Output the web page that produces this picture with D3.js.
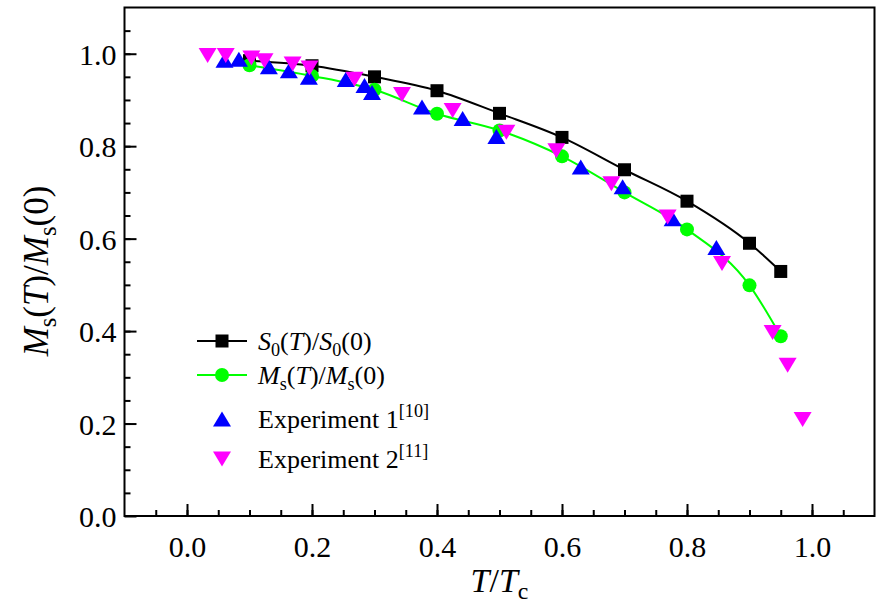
<!DOCTYPE html>
<html><head><meta charset="utf-8">
<script src="https://cdn.jsdelivr.net/npm/d3@7/dist/d3.min.js"></script>
<style>body{margin:0;background:#fff}svg{display:block}text{font-family:"Liberation Serif","DejaVu Serif",serif;fill:#000}</style>
</head><body><svg id="c" width="884" height="613"></svg>
<script>
// ---- data ----
const s0T = [0.1, 0.2, 0.3, 0.4, 0.5, 0.6, 0.7, 0.8, 0.9, 0.95];
const s0V = [0.985, 0.974, 0.950, 0.920, 0.871, 0.819, 0.749, 0.681, 0.590, 0.529];
const msT = [0.1, 0.2, 0.3, 0.4, 0.5, 0.6, 0.7, 0.8, 0.9, 0.95];
const msV = [0.975, 0.952, 0.922, 0.870, 0.834, 0.778, 0.700, 0.620, 0.499, 0.389];
const exp1T = [0.06, 0.083, 0.131, 0.163, 0.195, 0.254, 0.284, 0.296, 0.376, 0.441, 0.495, 0.630, 0.697, 0.777, 0.847];
const exp1V = [0.986, 0.988, 0.972, 0.963, 0.949, 0.944, 0.931, 0.916, 0.885, 0.860, 0.821, 0.755, 0.712, 0.643, 0.581];
const exp2T = [0.033, 0.062, 0.103, 0.124, 0.169, 0.196, 0.268, 0.344, 0.425, 0.511, 0.591, 0.679, 0.769, 0.856, 0.937, 0.961, 0.985];
const exp2V = [0.996, 0.996, 0.991, 0.985, 0.978, 0.969, 0.945, 0.912, 0.877, 0.830, 0.790, 0.719, 0.647, 0.546, 0.397, 0.326, 0.209];
const xTicks = [0.0, 0.2, 0.4, 0.6, 0.8, 1.0];
const yTicks = [0.0, 0.2, 0.4, 0.6, 0.8, 1.0];

const svg = d3.select("#c");
const L = 124.5, R = 874.5, T = 7.5, B = 516;
const x = d3.scaleLinear().domain([-0.1, 1.1]).range([L, R]);
const y = d3.scaleLinear().domain([0, 1.1]).range([B, T]);

// axes (ticks inward)
const xMinor = d3.range(-0.05, 1.1, 0.05).map(v => +v.toFixed(2));
const yMinor = d3.range(0.05, 1.1, 0.05).map(v => +v.toFixed(2));
const gx = svg.append("g").attr("transform", `translate(0,${B})`);
gx.call(d3.axisBottom(x).tickValues(xMinor).tickSize(-6).tickFormat(""));
gx.call(g => g.select(".domain").remove());
const gx2 = svg.append("g").attr("transform", `translate(0,${B})`);
gx2.call(d3.axisBottom(x).tickValues(xTicks).tickSize(-12).tickFormat(d3.format(".1f")).tickPadding(18));
gx2.select(".domain").remove();
const gy = svg.append("g").attr("transform", `translate(${L},0)`);
gy.call(d3.axisLeft(y).tickValues(yMinor).tickSize(-6).tickFormat(""));
gy.select(".domain").remove();
const gy2 = svg.append("g").attr("transform", `translate(${L},0)`);
gy2.call(d3.axisLeft(y).tickValues(yTicks).tickSize(-12).tickFormat(d3.format(".1f")).tickPadding(8));
gy2.select(".domain").remove();
svg.selectAll(".tick line").attr("stroke", "#000").attr("stroke-width", 2);
svg.selectAll(".tick text").style("font-size", "30px").style("font-family", '"Liberation Serif",serif');
gx2.selectAll(".tick text").attr("dy", "0.75em");
gy2.selectAll(".tick text").attr("dy", "0.35em");

// frame
svg.append("rect").attr("x", L).attr("y", T).attr("width", R - L).attr("height", B - T)
  .attr("fill", "none").attr("stroke", "#000").attr("stroke-width", 2);

// lines
const line = d3.line().x(d => x(d[0])).y(d => y(d[1])).curve(d3.curveMonotoneX);
const s0 = s0T.map((t, i) => [t, s0V[i]]);
const ms = msT.map((t, i) => [t, msV[i]]);
const e1 = exp1T.map((t, i) => [t, exp1V[i]]);
const e2 = exp2T.map((t, i) => [t, exp2V[i]]);
svg.append("path").attr("d", line(s0)).attr("fill", "none").attr("stroke", "#000").attr("stroke-width", 2);
svg.append("path").attr("d", line(ms)).attr("fill", "none").attr("stroke", "#00ff00").attr("stroke-width", 2);

// marker shapes
function triUp(cx, cy) { const w = 9, h = 7.5; return `M${cx},${cy - h}L${cx + w},${cy + h}L${cx - w},${cy + h}Z`; }
function triDown(cx, cy) { const w = 9, h = 7.5; return `M${cx - w},${cy - h}L${cx + w},${cy - h}L${cx},${cy + h}Z`; }
function drawSquare(g, cx, cy) { g.append("rect").attr("x", cx - 6.5).attr("y", cy - 6.5).attr("width", 13).attr("height", 13).attr("fill", "#000"); }
function drawCircle(g, cx, cy) { g.append("circle").attr("cx", cx).attr("cy", cy).attr("r", 7).attr("fill", "#00ff00"); }
function drawUp(g, cx, cy) { g.append("path").attr("d", triUp(cx, cy)).attr("fill", "#0000ff"); }
function drawDown(g, cx, cy) { g.append("path").attr("d", triDown(cx, cy)).attr("fill", "#ff00ff"); }

const gm = svg.append("g");
s0.forEach(d => drawSquare(gm, x(d[0]), y(d[1])));
ms.forEach(d => drawCircle(gm, x(d[0]), y(d[1])));
e1.forEach(d => drawUp(gm, x(d[0]), y(d[1])));
e2.forEach(d => drawDown(gm, x(d[0]), y(d[1])));

// rich text helper
function rich(g, parts, size) {
  const t = g.append("text").style("font-size", size + "px");
  let shift = 0;
  parts.forEach(p => {
    const sp = t.append("tspan").text(p.t);
    let target = 0, fs = size;
    if (p.sub) { target = 0.22 * size; fs = size * 0.7; }
    if (p.sup) { target = -0.42 * size; fs = size * 0.7; }
    sp.style("font-size", fs + "px");
    if (p.i) sp.style("font-style", "italic");
    if (target !== shift) { sp.attr("dy", target - shift); shift = target; }
  });
  return t;
}

// legend
const lg = svg.append("g");
const lx1 = 197, lx2 = 247, lmx = 222, ltx = 258;
const rows = [341, 375, 419, 459];
lg.append("line").attr("x1", lx1).attr("x2", lx2).attr("y1", rows[0]).attr("y2", rows[0]).attr("stroke", "#000").attr("stroke-width", 2);
drawSquare(lg, lmx, rows[0]);
lg.append("line").attr("x1", lx1).attr("x2", lx2).attr("y1", rows[1]).attr("y2", rows[1]).attr("stroke", "#00ff00").attr("stroke-width", 2);
drawCircle(lg, lmx, rows[1]);
drawUp(lg, lmx, rows[2]);
drawDown(lg, lmx, rows[3]);
const LS = 26;
rich(lg, [{t:"S",i:1},{t:"0",sub:1},{t:"("},{t:"T",i:1},{t:")/"},{t:"S",i:1},{t:"0",sub:1},{t:"(0)"}], LS)
  .attr("x", ltx).attr("y", rows[0] + 9);
rich(lg, [{t:"M",i:1},{t:"s",sub:1},{t:"("},{t:"T",i:1},{t:")/"},{t:"M",i:1},{t:"s",sub:1},{t:"(0)"}], LS)
  .attr("x", ltx).attr("y", rows[1] + 9);
rich(lg, [{t:"Experiment 1"},{t:"[10]",sup:1}], LS).attr("x", ltx).attr("y", rows[2] + 9);
rich(lg, [{t:"Experiment 2"},{t:"[11]",sup:1}], LS).attr("x", ltx).attr("y", rows[3] + 9);

// axis titles
rich(svg, [{t:"T",i:1},{t:"/"},{t:"T",i:1},{t:"c",sub:1}], 34)
  .attr("x", (L + R) / 2).attr("y", 592).attr("text-anchor", "middle");
rich(svg, [{t:"M",i:1},{t:"s",sub:1},{t:"("},{t:"T",i:1},{t:")/"},{t:"M",i:1},{t:"s",sub:1},{t:"(0)"}], 35)
  .attr("text-anchor", "middle").attr("transform", "translate(48,271) rotate(-90)");
</script></body></html>
